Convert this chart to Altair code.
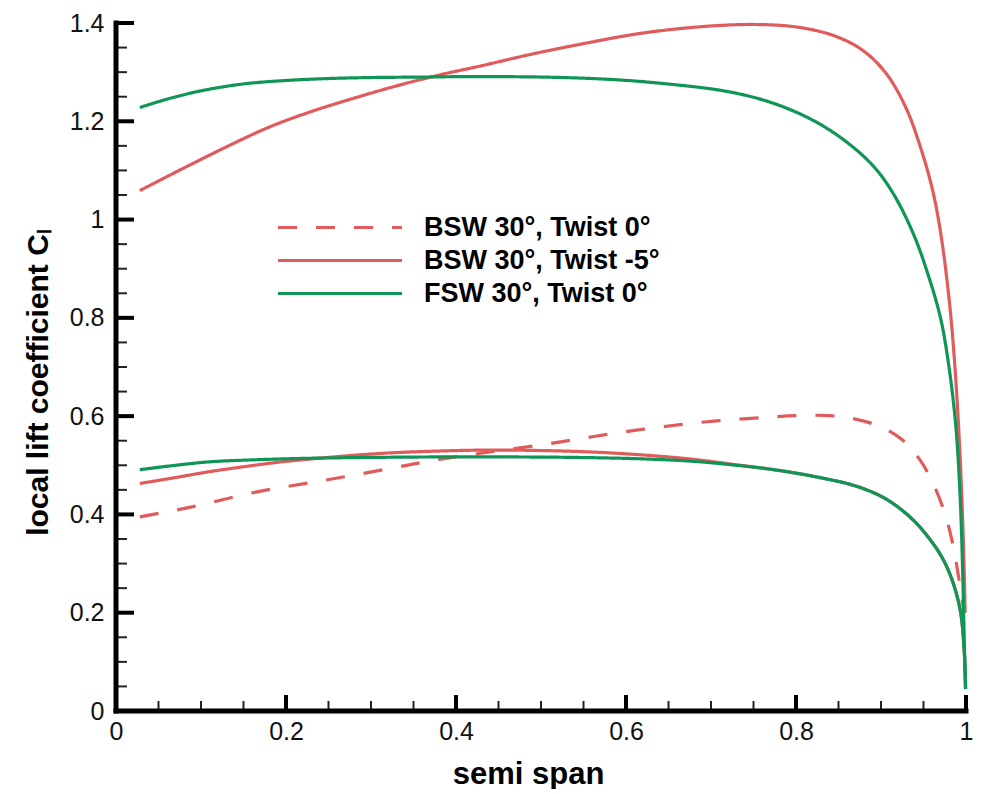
import altair as alt
import pandas as pd

# ---------------- data ----------------
series_names = ["BSW 30°, Twist 0°", "BSW 30°, Twist -5°", "FSW 30°, Twist 0°"]

# BSW 30°, Twist 0° (dashed red)
bsw0_x = [0.028, 0.088, 0.166, 0.244, 0.321, 0.38, 0.44, 0.51, 0.56, 0.61, 0.66, 0.71,
          0.76, 0.80, 0.84, 0.87, 0.90, 0.925, 0.945, 0.96, 0.975, 0.985, 0.992, 0.997]
bsw0_y = [0.395, 0.415, 0.446, 0.469, 0.493, 0.512, 0.527, 0.544, 0.558, 0.571, 0.582, 0.591,
          0.597, 0.601, 0.601, 0.594, 0.578, 0.552, 0.513, 0.468, 0.403, 0.335, 0.265, 0.210]

# BSW 30°, Twist -5° upper curve (solid red)
bsw5_up_x = [0.028, 0.08, 0.13, 0.18, 0.23, 0.28, 0.33, 0.38, 0.43, 0.49, 0.55, 0.61, 0.66,
             0.71, 0.75, 0.79, 0.82, 0.845, 0.87, 0.89, 0.91, 0.93, 0.945, 0.96, 0.97, 0.98,
             0.987, 0.993, 0.997, 0.999]
bsw5_up_y = [1.059, 1.105, 1.148, 1.188, 1.220, 1.247, 1.272, 1.294, 1.313, 1.337, 1.358, 1.377,
             1.388, 1.395, 1.397, 1.394, 1.386, 1.374, 1.354, 1.328, 1.288, 1.225, 1.155, 1.065,
             0.975, 0.840, 0.700, 0.520, 0.340, 0.200]

# BSW 30°, Twist -5° lower curve (solid red)
bsw5_lo_x = [0.028, 0.07, 0.11, 0.15, 0.19, 0.23, 0.27, 0.32, 0.38, 0.44, 0.50, 0.56, 0.62,
             0.68, 0.73, 0.77, 0.81, 0.842, 0.86, 0.88, 0.90, 0.92, 0.94, 0.955, 0.97, 0.98,
             0.988, 0.994, 0.998, 0.9995]
bsw5_lo_y = [0.463, 0.475, 0.487, 0.497, 0.506, 0.513, 0.519, 0.525, 0.529, 0.531, 0.530, 0.527,
             0.521, 0.512, 0.501, 0.492, 0.481, 0.470, 0.463, 0.452, 0.437, 0.415, 0.385, 0.355,
             0.318, 0.283, 0.243, 0.197, 0.120, 0.045]

# FSW 30°, Twist 0° upper curve (solid green)
fsw_up_x = [0.028, 0.06, 0.10, 0.15, 0.20, 0.25, 0.30, 0.36, 0.42, 0.50, 0.56, 0.61, 0.66,
            0.70, 0.73, 0.76, 0.79, 0.82, 0.85, 0.88, 0.90, 0.92, 0.94, 0.955, 0.97, 0.98,
            0.988, 0.993, 0.996, 0.998, 0.9995]
fsw_up_y = [1.228, 1.245, 1.262, 1.276, 1.283, 1.287, 1.289, 1.290, 1.291, 1.290, 1.287, 1.282,
            1.274, 1.266, 1.257, 1.244, 1.226, 1.202, 1.170, 1.128, 1.090, 1.036, 0.963, 0.890,
            0.800, 0.700, 0.580, 0.440, 0.290, 0.140, 0.045]

# FSW 30°, Twist 0° lower curve (solid green)
fsw_lo_x = [0.028, 0.07, 0.11, 0.16, 0.22, 0.30, 0.38, 0.46, 0.54, 0.62, 0.68, 0.73, 0.77,
            0.81, 0.842, 0.86, 0.88, 0.90, 0.92, 0.94, 0.955, 0.97, 0.98, 0.988, 0.994, 0.998,
            0.9995]
fsw_lo_y = [0.491, 0.500, 0.507, 0.511, 0.514, 0.516, 0.517, 0.517, 0.516, 0.513, 0.508, 0.500,
            0.492, 0.481, 0.470, 0.463, 0.452, 0.437, 0.415, 0.385, 0.355, 0.318, 0.283, 0.243,
            0.197, 0.120, 0.045]

x_domain = [0, 1]
y_domain = [0, 1.4]
x_major = [0, 0.2, 0.4, 0.6, 0.8, 1.0]
x_minor = [0.05, 0.1, 0.15, 0.25, 0.3, 0.35, 0.45, 0.5, 0.55, 0.65, 0.7, 0.75, 0.85, 0.9, 0.95]
y_major = [0, 0.2, 0.4, 0.6, 0.8, 1.0, 1.2, 1.4]
y_minor = [0.05, 0.1, 0.15, 0.25, 0.3, 0.35, 0.45, 0.5, 0.55, 0.65, 0.7, 0.75, 0.85, 0.9, 0.95,
           1.05, 1.1, 1.15, 1.25, 1.3, 1.35]

x_title = "semi span"
y_title = "local lift coefficient Cₗ"

# ---------------- build tables ----------------
curves = [
    (series_names[0], "bsw0", bsw0_x, bsw0_y),
    (series_names[1], "bsw5_up", bsw5_up_x, bsw5_up_y),
    (series_names[1], "bsw5_lo", bsw5_lo_x, bsw5_lo_y),
    (series_names[2], "fsw_up", fsw_up_x, fsw_up_y),
    (series_names[2], "fsw_lo", fsw_lo_x, fsw_lo_y),
]
rows = []
for s, c, xs, ys in curves:
    for i, (xv, yv) in enumerate(zip(xs, ys)):
        rows.append({"series": s, "curve": c, "x": xv, "y": yv, "i": i})
df = pd.DataFrame(rows)

W, H = 850, 688
RED = "#e05c5c"
GREEN = "#0f9656"
FONT = "Liberation Sans"

xscale = alt.Scale(domain=x_domain, nice=False, zero=False)
yscale = alt.Scale(domain=y_domain, nice=False, zero=False)

xaxis = alt.Axis(values=x_major, format="~g", ticks=False, grid=False, domain=False,
                 labelFlush=False,
                 labelFont=FONT, labelFontSize=25, labelColor="#111111",
                 labelPadding=8,
                 titleFont=FONT, titleFontSize=31, titleFontWeight="bold",
                 titleColor="black", titleX=412, titleY=72,
                 titleBaseline="alphabetic", titleAlign="center")
yaxis = alt.Axis(values=y_major, format="~g", ticks=False, grid=False, domain=False,
                 labelFont=FONT, labelFontSize=25, labelColor="#111111",
                 labelPadding=12,
                 titleFont=FONT, titleFontSize=30, titleFontWeight="bold",
                 titleColor="black", titleX=-78, titleY=359,
                 titleBaseline="middle", titleAlign="center", titleAngle=270)

legend_kw = dict(
    title=None, orient="none", legendX=160, legendY=188,
    symbolType="stroke", symbolSize=15376, symbolStrokeWidth=3.5,
    clipHeight=33, rowPadding=0, padding=0,
    labelFont=FONT, labelFontSize=27, labelFontWeight="bold", labelColor="black",
    labelOffset=20, labelLimit=400,
)

lines = alt.Chart(df).mark_line(interpolate="catmull-rom").encode(
    x=alt.X("x:Q", scale=xscale, title=x_title, axis=xaxis),
    y=alt.Y("y:Q", scale=yscale, title=y_title, axis=yaxis),
    color=alt.Color("series:N",
                    scale=alt.Scale(domain=series_names, range=[RED, RED, GREEN]),
                    legend=alt.Legend(**legend_kw)),
    strokeDash=alt.StrokeDash("series:N",
                              scale=alt.Scale(domain=series_names,
                                              range=[[19, 19], [1, 0], [1, 0]]),
                              legend=alt.Legend(**legend_kw)),
    strokeWidth=alt.StrokeWidth("series:N",
                                scale=alt.Scale(domain=series_names, range=[3.2, 3.2, 4]),
                                legend=None),
    detail="curve:N",
    order="i:Q",
)

# axis lines (left and bottom only), drawn through the scales
xdom = alt.Chart(pd.DataFrame({"x": [x_domain[0]], "x2": [x_domain[1]], "y": [y_domain[0]]})).mark_rule(
    stroke="#000000", strokeWidth=5, strokeCap="square", opacity=1).encode(
    x=alt.X("x:Q", scale=xscale, title=x_title, axis=xaxis), x2="x2:Q",
    y=alt.Y("y:Q", scale=yscale, title=y_title, axis=yaxis))
ydom = alt.Chart(pd.DataFrame({"y": [y_domain[0]], "y2": [y_domain[1]], "x": [x_domain[0]]})).mark_rule(
    stroke="#000000", strokeWidth=5, strokeCap="square", opacity=1).encode(
    y=alt.Y("y:Q", scale=yscale, title=y_title, axis=yaxis), y2="y2:Q",
    x=alt.X("x:Q", scale=xscale, title=x_title, axis=xaxis))

xmaj = alt.Chart(pd.DataFrame({"x": x_major})).mark_rule(stroke="#000000", strokeWidth=4, opacity=1).encode(
    x=alt.X("x:Q", scale=xscale, title=x_title, axis=xaxis), y=alt.value(H), y2=alt.value(H - 16))
xmin = alt.Chart(pd.DataFrame({"x": x_minor})).mark_rule(stroke="#222222", strokeWidth=2, opacity=1).encode(
    x=alt.X("x:Q", scale=xscale, title=x_title, axis=xaxis), y=alt.value(H), y2=alt.value(H - 10))
ymaj = alt.Chart(pd.DataFrame({"y": y_major})).mark_rule(stroke="#000000", strokeWidth=4, opacity=1).encode(
    y=alt.Y("y:Q", scale=yscale, title=y_title, axis=yaxis), x=alt.value(0), x2=alt.value(18))
ymin = alt.Chart(pd.DataFrame({"y": y_minor})).mark_rule(stroke="#222222", strokeWidth=2, opacity=1).encode(
    y=alt.Y("y:Q", scale=yscale, title=y_title, axis=yaxis), x=alt.value(0), x2=alt.value(11))

chart = alt.layer(lines, xmaj, xmin, ymaj, ymin, xdom, ydom).properties(
    width=W, height=H,
    autosize=alt.AutoSizeParams(type="none"),
    padding={"left": 108, "top": 15, "right": 7, "bottom": 78},
).configure(background="white").configure_view(stroke=None)

chart.save("out.html", embed_options={"renderer": "svg", "actions": False})
